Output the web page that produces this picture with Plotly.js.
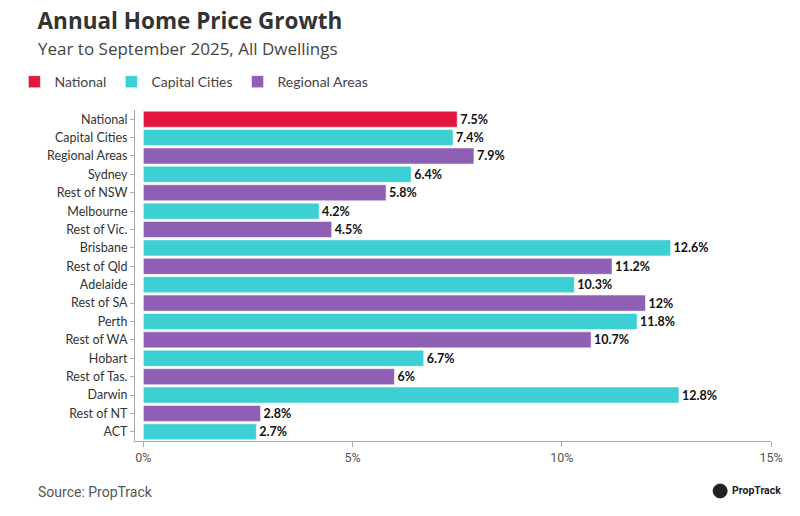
<!DOCTYPE html>
<html>
<head>
<meta charset="utf-8">
<script src="https://cdn.plot.ly/plotly-3.0.1.min.js"></script>
<style>html,body{margin:0;padding:0;background:#fff;}#chart{width:800px;height:516px;}</style>
</head>
<body>
<div id="chart"></div>
<script>
const categories = ["National","Capital Cities","Regional Areas","Sydney","Rest of NSW","Melbourne","Rest of Vic.","Brisbane","Rest of Qld","Adelaide","Rest of SA","Perth","Rest of WA","Hobart","Rest of Tas.","Darwin","Rest of NT","ACT"];
const growth = [7.5,7.4,7.9,6.4,5.8,4.2,4.5,12.6,11.2,10.3,12,11.8,10.7,6.7,6,12.8,2.8,2.7];
const groups = ["National","Capital Cities","Regional Areas","Capital Cities","Regional Areas","Capital Cities","Regional Areas","Capital Cities","Regional Areas","Capital Cities","Regional Areas","Capital Cities","Regional Areas","Capital Cities","Regional Areas","Capital Cities","Regional Areas","Capital Cities"];
const groupNames = ["National","Capital Cities","Regional Areas"];
const groupColors = ["#E2173D","#3CCFD4","#8E5FB5"];
const xTicks = [0,5,10,15];
const xTickLabels = ["0%","5%","10%","15%"];

const traces = groupNames.map((g, gi) => {
  const ys = [], xs = [];
  categories.forEach((c, i) => { if (groups[i] === g) { ys.push(c); xs.push(growth[i]); } });
  return {
    type: 'bar', orientation: 'h', name: g, x: xs, y: ys,
    marker: {color: groupColors[gi], line: {color: '#ffffff', width: 0.5}},
    text: xs.map(v => v + '%'), textposition: 'outside', cliponaxis: false,
    textfont: {family: 'Lato, sans-serif', size: 12.5, color: '#111', weight: 'bold'},
    hoverinfo: 'x+y'
  };
});

const layout = {
  width: 800, height: 516,
  margin: {l: 135, r: 29, t: 110, b: 75},
  paper_bgcolor: '#fff', plot_bgcolor: '#fff',
  barmode: 'relative', bargap: 0.13,
  font: {family: 'Lato, sans-serif', color: '#333'},
  title: {text: '<b>Annual Home Price Growth</b>', x: 0.047, xanchor: 'left', y: 0.96, yanchor: 'middle',
          font: {family: 'Open Sans, sans-serif', size: 22.5, color: '#333'}},
  showlegend: true,
  legend: {orientation: 'h', xref: 'container', yref: 'container', x: 0.018, xanchor: 'left', y: 0.841, yanchor: 'middle',
           font: {family: 'Lato, sans-serif', size: 14, color: '#444'}, traceorder: 'normal',
           itemwidth: 30, tracegroupgap: 0, bgcolor: 'rgba(0,0,0,0)'},
  xaxis: {range: [-0.2, 15], tickvals: xTicks, ticktext: xTickLabels, showgrid: false, zeroline: false,
          showline: true, linecolor: '#aaa', linewidth: 1, ticks: 'outside', ticklen: 5, tickcolor: '#aaa',
          tickfont: {family: 'Roboto, sans-serif', size: 12.5, color: '#555'}, fixedrange: true, automargin: false},
  yaxis: {categoryorder: 'array', categoryarray: categories, autorange: 'reversed', showgrid: false,
          showline: true, linecolor: '#aaa', linewidth: 1, ticks: 'outside', ticklen: 4, tickcolor: '#aaa',
          tickfont: {family: 'Lato, sans-serif', size: 12.5, color: '#333'}, fixedrange: true, automargin: false},
  annotations: [
    {text: 'Year to September 2025, All Dwellings', xref: 'paper', yref: 'paper', x: -0.155, y: 1.187,
     xanchor: 'left', yanchor: 'middle', showarrow: false,
     font: {family: 'Open Sans, sans-serif', size: 17, color: '#444'}},
    {text: 'Source: PropTrack', xref: 'paper', yref: 'paper', x: -0.155, y: -0.155,
     xanchor: 'left', yanchor: 'middle', showarrow: false,
     font: {family: 'Roboto, sans-serif', size: 14, color: '#555'}},
    {text: '<b>PropTrack</b>', xref: 'paper', yref: 'paper', x: 0.936, y: -0.151,
     xanchor: 'left', yanchor: 'middle', showarrow: false,
     font: {family: 'Roboto, sans-serif', size: 10.5, color: '#222'}}
  ],
  shapes: [
    {type: 'circle', xref: 'paper', yref: 'paper', x0: 0.909, x1: 0.931, y0: -0.172, y1: -0.13,
     fillcolor: '#222', line: {color: '#222', width: 1}}
  ]
};
Plotly.newPlot('chart', traces, layout, {displayModeBar: false, staticPlot: true});
</script>
</body>
</html>
